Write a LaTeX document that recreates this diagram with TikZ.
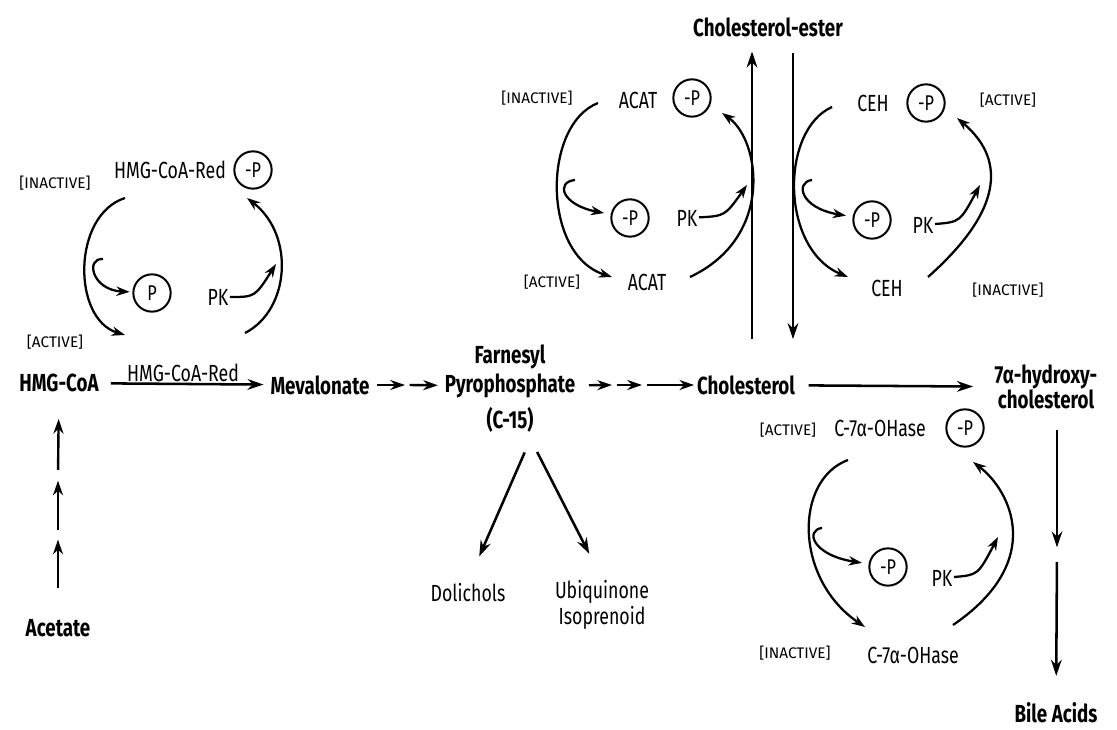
\documentclass[tikz,border=0pt]{standalone}
\usepackage{fontspec}
\setmainfont{Fira Sans}[FakeStretch=0.76]
\newfontfamily\capsfont{Fira Sans}
\usetikzlibrary{arrows.meta}
\begin{document}
\begin{tikzpicture}[x=0.75pt,y=-0.75pt,
  chem/.style={font=\fontsize{18.5}{19}\selectfont\bfseries, inner sep=1pt, align=center},
  enz/.style={font=\fontsize{17.5}{19.5}\selectfont, inner sep=1pt, align=center},
  state/.style={font=\capsfont\fontsize{11.5}{12}\selectfont, inner sep=1pt},
  phos/.style={circle, draw, line width=1.5pt, minimum size=28pt, inner sep=0pt, font=\fontsize{16}{17}\selectfont},
  rxn/.style={line width=1.9pt, -{Stealth[length=12pt,width=8pt]}},
  cyc/.style={line width=1.7pt, -{Stealth[length=10pt,width=7pt]}},
  hop/.style={line width=1.8pt, -{Stealth[length=11pt,width=7.5pt]}}]
\useasboundingbox (0,0) rectangle (1117,730);
\node[chem] (hmg) at (59,383) {HMG-CoA};
\node[chem] (mev) at (320,385) {Mevalonate};
\node[chem] (far0) at (510,357) {Farnesyl};
\node[chem] (far) at (510,386) {Pyrophosphate};
\node[chem] (far1) at (510,420) {(C-15)};
\node[chem] (chol) at (746,385) {Cholesterol};
\node[chem] (ester) at (768,27) {Cholesterol-ester};
\node[chem] (hyd) at (1046,387) {7α-hydroxy-\\cholesterol};
\node[chem] (bile) at (1056,713) {Bile Acids};
\node[chem] (acet) at (58,628) {Acetate};
\node[enz] (dol) at (468,593) {Dolichols};
\node[enz] (ubi) at (602,605) {Ubiquinone\\Isoprenoid};
\node[enz] (hr0) at (170,170) {HMG-CoA-Red};
\node[phos] (hp0) at (253,170) {-P};
\node[state] (hs0) at (55,183) {[INACTIVE]};
\node[phos] (hp1) at (152,293) {P};
\node[enz] (hk0) at (218,297) {PK};
\node[state] (hs1) at (55,342) {[ACTIVE]};
\node[enz] (hr1) at (183,373) {HMG-CoA-Red};
\node[enz] (ac0) at (638,100) {ACAT};
\node[phos] (ap0) at (692,98) {-P};
\node[state] (as0) at (537,98) {[INACTIVE]};
\node[phos] (ap1) at (630,218) {-P};
\node[enz] (ak0) at (687,218) {PK};
\node[state] (as1) at (552,282) {[ACTIVE]};
\node[enz] (ac1) at (647,282) {ACAT};
\node[enz] (ce0) at (873,103) {CEH};
\node[phos] (ep0) at (926,103) {-P};
\node[state] (es0) at (1008,100) {[ACTIVE]};
\node[phos] (ep1) at (872,220) {-P};
\node[enz] (ek0) at (923,225) {PK};
\node[enz] (ce1) at (887,288) {CEH};
\node[state] (es1) at (1008,290) {[INACTIVE]};
\node[state] (os0) at (788,430) {[ACTIVE]};
\node[enz] (oh0) at (880,428) {C-7α-OHase};
\node[phos] (op0) at (965,428) {-P};
\node[phos] (op1) at (888,567) {-P};
\node[enz] (ok0) at (942,578) {PK};
\node[state] (os1) at (795,653) {[INACTIVE]};
\node[enz] (oh1) at (913,655) {C-7α-OHase};
\coordinate (h0) at (125,198);
\coordinate (h1) at (125,335);
\coordinate (h2) at (245,333);
\coordinate (h3) at (247,198);
\coordinate (h4) at (103,259);
\coordinate (h5) at (276,264);
\coordinate (a0) at (598,103);
\coordinate (a1) at (612,277);
\coordinate (a2) at (690,277);
\coordinate (a3) at (722,113);
\coordinate (a4) at (575,180);
\coordinate (a5) at (747,185);
\coordinate (e0) at (832,107);
\coordinate (e1) at (848,277);
\coordinate (e2) at (928,277);
\coordinate (e3) at (957,118);
\coordinate (e4) at (812,180);
\coordinate (e5) at (980,185);
\coordinate (o0) at (848,460);
\coordinate (o1) at (865,627);
\coordinate (o2) at (953,625);
\coordinate (o3) at (973,462);
\coordinate (o4) at (822,528);
\coordinate (o5) at (998,537);
\coordinate (m1) at (407,385);
\coordinate (f1) at (614,385);
\coordinate (f2) at (644,385);
\coordinate (c1) at (58,535);
\coordinate (c2) at (58,476);
\coordinate (b1) at (1057,554);
\draw[cyc] (h0) .. controls (72,215) and (72,319) .. (h1);
\draw[cyc, shorten >=2pt] (h4) .. controls (85,258) and (92,290) .. (hp1);
\draw[cyc] (h2) .. controls (290,310) and (295,235) .. (h3);
\draw[cyc] (hk0) .. controls (255,297) .. (h5);
\draw[cyc] (a0) .. controls (542,125) and (542,255) .. (a1);
\draw[cyc, shorten >=5pt] (a4) .. controls (555,182) and (562,205) .. (ap1);
\draw[cyc] (a2) .. controls (775,237) and (760,140) .. (a3);
\draw[cyc] (ak0) .. controls (725,216) .. (a5);
\draw[cyc] (e0) .. controls (780,130) and (780,249) .. (e1);
\draw[cyc, shorten >=5pt] (e4) .. controls (795,182) and (800,208) .. (ep1);
\draw[cyc] (e2) .. controls (1017,198) and (995,150) .. (e3);
\draw[cyc] (ek0) .. controls (960,222) .. (e5);
\draw[cyc] (o0) .. controls (794,480) and (794,579) .. (o1);
\draw[cyc, shorten >=5pt] (o4) .. controls (805,530) and (812,555) .. (op1);
\draw[cyc] (o2) .. controls (1047,561) and (1010,490) .. (o3);
\draw[cyc] (ok0) .. controls (978,575) .. (o5);
\draw[rxn, shorten <=8pt, shorten >=4pt] (hmg) -- (mev);
\draw[hop, shorten <=4.5pt, shorten >=1.5pt] (mev) -- (m1);
\draw[hop, shorten <=2pt, shorten >=4pt] (m1) -- (far);
\draw[hop, shorten <=9pt, shorten >=1.5pt] (far) -- (f1);
\draw[hop, shorten <=2pt, shorten >=1.5pt] (f1) -- (f2);
\draw[hop, shorten <=2pt, shorten >=1pt] (f2) -- (chol);
\draw[hop, shorten <=22pt, shorten >=3.5pt] (acet) -- (c1);
\draw[hop, shorten <=3.5pt, shorten >=3.5pt] (c1) -- (c2);
\draw[hop, shorten <=4.5pt, shorten >=19pt] (c2) -- (hmg);
\draw[rxn, shorten <=26pt, shorten >=10pt] ([xshift=4.5pt]chol.north) -- ([xshift=-12pt]ester.south);
\draw[rxn, shorten <=11pt, shorten >=26pt] ([xshift=18.75pt]ester.south) -- ([xshift=35.25pt]chol.north);
\draw[rxn, shorten <=9pt, shorten >=15pt] (chol) -- (hyd);
\draw[rxn, shorten <=14pt, shorten >=5pt] (hyd.south -| b1) -- (b1);
\draw[rxn, shorten <=6pt, shorten >=19pt] (b1) -- (bile);
\draw[rxn, shorten <=15pt, shorten >=21pt] ([xshift=17pt]far1.south) -- (dol.north);
\draw[rxn, shorten <=15pt, shorten >=21pt] ([xshift=13.5pt]far1.south) -- (ubi.north);
\end{tikzpicture}
\end{document}
